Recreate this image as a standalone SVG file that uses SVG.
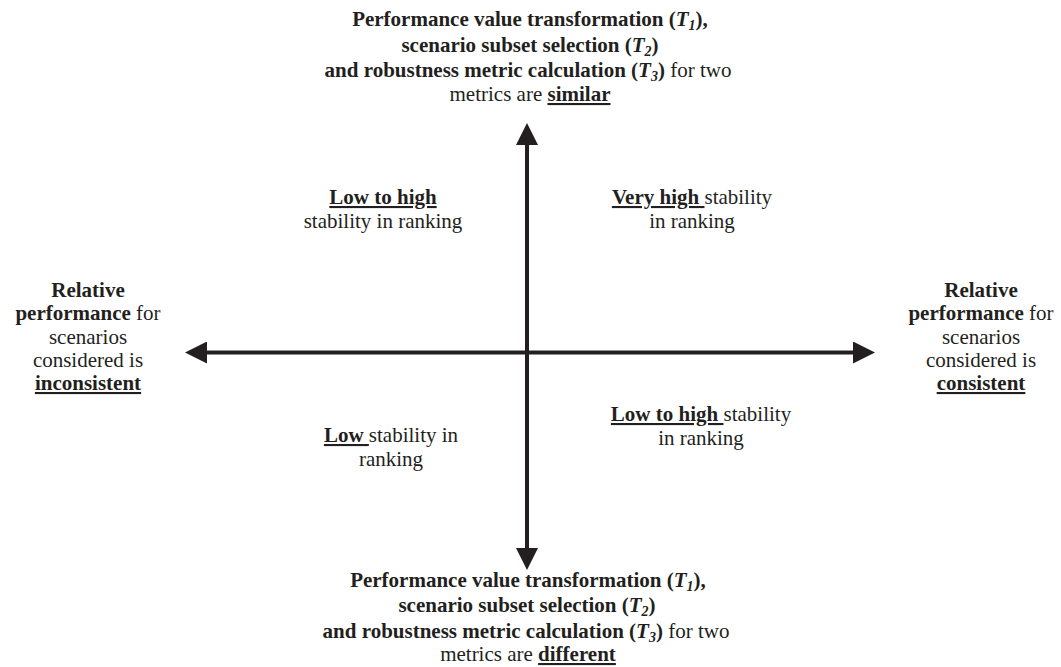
<svg xmlns="http://www.w3.org/2000/svg" width="1061" height="667" viewBox="0 0 1061 667">
<style>
text{font-family:'Liberation Serif','Times New Roman',serif;font-size:21px;fill:#231f20;text-anchor:middle}
.b{font-weight:bold}
.u{text-decoration:underline}
.i{font-style:italic;font-weight:bold}
.s{font-size:14px;font-style:italic;font-weight:bold}
.ax{stroke:#231f20;stroke-width:4;fill:none}
</style>
<defs>
<marker id="ah" markerUnits="userSpaceOnUse" markerWidth="22" markerHeight="22" refX="0" refY="11" orient="auto-start-reverse" viewBox="0 0 22 22">
<path d="M0,0 L22,11 L0,22 z" fill="#231f20"/>
</marker>
</defs>
<rect width="1061" height="667" fill="#fff"/>
<g id="connectors">
<line class="ax" x1="527" y1="145" x2="527" y2="548" marker-start="url(#ah)" marker-end="url(#ah)"/>
<line class="ax" x1="207" y1="352.5" x2="853" y2="352.5" marker-start="url(#ah)" marker-end="url(#ah)"/>
</g>
<g id="top-label">
<text x="530" y="26"><tspan class="b">Performance value transformation (<tspan class="i">T</tspan><tspan class="s" dy="4">1</tspan><tspan dy="-4">),</tspan></tspan></text>
<text x="530" y="52"><tspan class="b">scenario subset selection (<tspan class="i">T</tspan><tspan class="s" dy="4">2</tspan><tspan dy="-4">)</tspan></tspan></text>
<text x="528" y="77"><tspan class="b">and robustness metric calculation (<tspan class="i">T</tspan><tspan class="s" dy="4">3</tspan><tspan dy="-4">)</tspan></tspan> for two</text>
<text x="530" y="101">metrics are <tspan class="b u">similar</tspan></text>
</g>
<g id="bottom-label">
<text x="528" y="587"><tspan class="b">Performance value transformation (<tspan class="i">T</tspan><tspan class="s" dy="4">1</tspan><tspan dy="-4">),</tspan></tspan></text>
<text x="527" y="612"><tspan class="b">scenario subset selection (<tspan class="i">T</tspan><tspan class="s" dy="4">2</tspan><tspan dy="-4">)</tspan></tspan></text>
<text x="526" y="638"><tspan class="b">and robustness metric calculation (<tspan class="i">T</tspan><tspan class="s" dy="4">3</tspan><tspan dy="-4">)</tspan></tspan> for two</text>
<text x="528" y="661">metrics are <tspan class="b u">different</tspan></text>
</g>
<g id="left-label">
<text x="88" y="297" class="b">Relative</text>
<text x="88" y="320"><tspan class="b">performance</tspan> for</text>
<text x="88" y="343.5">scenarios</text>
<text x="88" y="367">considered is</text>
<text x="88" y="390" class="b u">inconsistent</text>
</g>
<g id="right-label">
<text x="981" y="297" class="b">Relative</text>
<text x="981" y="320"><tspan class="b">performance</tspan> for</text>
<text x="981" y="343.5">scenarios</text>
<text x="981" y="367">considered is</text>
<text x="981" y="390" class="b u">consistent</text>
</g>
<g id="q-top-left">
<text x="383" y="204" class="b u">Low to high</text>
<text x="383" y="228">stability in ranking</text>
</g>
<g id="q-top-right">
<text x="692" y="204"><tspan class="b u">Very high </tspan>stability</text>
<text x="692" y="228">in ranking</text>
</g>
<g id="q-bottom-left">
<text x="391" y="442"><tspan class="b u">Low </tspan>stability in</text>
<text x="391" y="466">ranking</text>
</g>
<g id="q-bottom-right">
<text x="701" y="421"><tspan class="b u">Low to high </tspan>stability</text>
<text x="701" y="445">in ranking</text>
</g>
</svg>
